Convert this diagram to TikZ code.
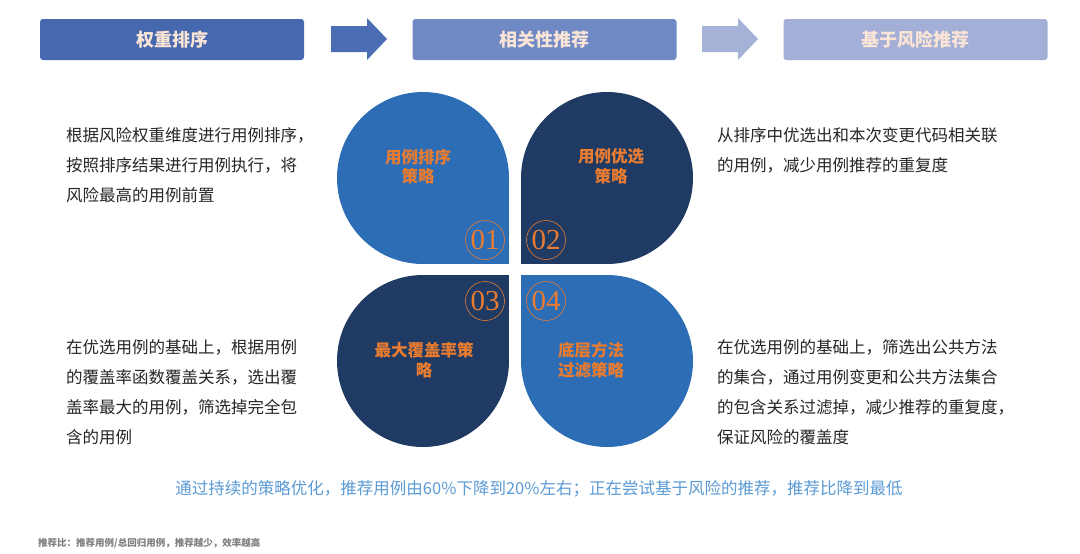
\documentclass[tikz,border=0pt]{standalone}
\usepackage{fontspec}
\setmainfont{Noto Sans CJK SC}
\newfontfamily\numfont{Liberation Serif}
\usetikzlibrary{positioning}

\definecolor{hdA}{HTML}{4668AE}
\definecolor{hdB}{HTML}{6F89C5}
\definecolor{hdC}{HTML}{A3AFD7}
\definecolor{arA}{HTML}{4A6DB4}
\definecolor{arB}{HTML}{A4B2D8}
\definecolor{peach}{HTML}{FBE5D6}
\definecolor{petalA}{HTML}{2C6DB5}
\definecolor{petalB}{HTML}{1F3A63}
\definecolor{accent}{HTML}{E97C30}
\definecolor{bodytext}{HTML}{262626}
\definecolor{tipblue}{HTML}{5B9BD5}
\definecolor{notegray}{HTML}{7F7F7F}

\begin{document}
\begin{tikzpicture}[x=1pt,y=-1pt,
  hdbox/.style={rounded corners=3pt, minimum width=264pt, minimum height=41pt,
    inner sep=0pt, text=peach, font=\fontsize{18}{20}\selectfont\bfseries},
  petaltext/.style={align=center, inner sep=0pt, text=accent,
    font=\fontsize{16.5}{19.5}\selectfont\bfseries},
  numring/.style={circle, draw=accent, line width=0.6pt, minimum size=39pt,
    inner sep=0pt, text=accent, font=\numfont\fontsize{29}{29}\selectfont},
  desc/.style={anchor=base west, inner sep=0pt, text=bodytext,
    font=\fontsize{16.5}{20}\selectfont}]
  \useasboundingbox (0,0) rectangle (1080,554);
  \fill[white] (0,0) rectangle (1080,554);

  % header row
  \node[hdbox, fill=hdA] (h1) at (172,39.5) {权重排序};
  \node[hdbox, fill=hdB] (h2) at (544.5,39.5) {相关性推荐};
  \node[hdbox, fill=hdC] (h3) at (915.5,39.5) {基于风险推荐};
  \fill[arA] (331,26) -- (367,26) -- (367,18) -- (387,39) -- (367,60) -- (367,52) -- (331,52) -- cycle;
  \fill[arB] (702,26) -- (738,26) -- (738,18) -- (758,39) -- (738,60) -- (738,52) -- (702,52) -- cycle;

  % four petals
  \fill[petalA] (423,178) circle (86); \fill[petalA] (423,178) rectangle (509,264);
  \fill[petalB] (607,178) circle (86); \fill[petalB] (521,178) rectangle (607,264);
  \fill[petalB] (423,361) circle (86); \fill[petalB] (423,275) rectangle (509,361);
  \fill[petalA] (607,361) circle (86); \fill[petalA] (521,275) rectangle (607,361);

  \node[petaltext] (p1) at (418,166.5) {用例排序\\策略};
  \node[petaltext] (p2) at (611,166.5) {用例优选\\策略};
  \node[petaltext] (p3) at (424,360) {最大覆盖率策\\略};
  \node[petaltext] (p4) at (591,360) {底层方法\\过滤策略};

  \node[numring] (n1) at (485,240) {01};
  \node[numring] (n2) at (546,240) {02};
  \node[numring] (n3) at (485,301) {03};
  \node[numring] (n4) at (546,301) {04};

  % descriptions
  \foreach \t [count=\i from 0] in {根据风险权重维度进行用例排序，,按照排序结果进行用例执行，将,风险最高的用例前置}
    \node[desc] (ul\i) at (66,141+30*\i) {\t};
  \foreach \t [count=\i from 0] in {从排序中优选出和本次变更代码相关联,的用例，减少用例推荐的重复度}
    \node[desc] (ur\i) at (717,141+30*\i) {\t};
  \foreach \t [count=\i from 0] in {在优选用例的基础上，根据用例,的覆盖率函数覆盖关系，选出覆,盖率最大的用例，筛选掉完全包,含的用例}
    \node[desc] (ll\i) at (66,353+30*\i) {\t};
  \foreach \t [count=\i from 0] in {在优选用例的基础上，筛选出公共方法,的集合，通过用例变更和公共方法集合,的包含关系过滤掉，减少推荐的重复度，,保证风险的覆盖度}
    \node[desc] (lr\i) at (717,353+30*\i) {\t};

  \node[anchor=base, inner sep=0pt, text=tipblue, font=\fontsize{16.5}{20}\selectfont]
    (sum) at (539,494) {通过持续的策略优化，推荐用例由60\%下降到20\%左右；正在尝试基于风险的推荐，推荐比降到最低};
  \node[anchor=base west, inner sep=0pt, text=notegray, font=\fontsize{9.5}{10}\selectfont\bfseries]
    (note) at (38,546.5) {推荐比：推荐用例/总回归用例，推荐越少，效率越高};
\end{tikzpicture}
\end{document}
